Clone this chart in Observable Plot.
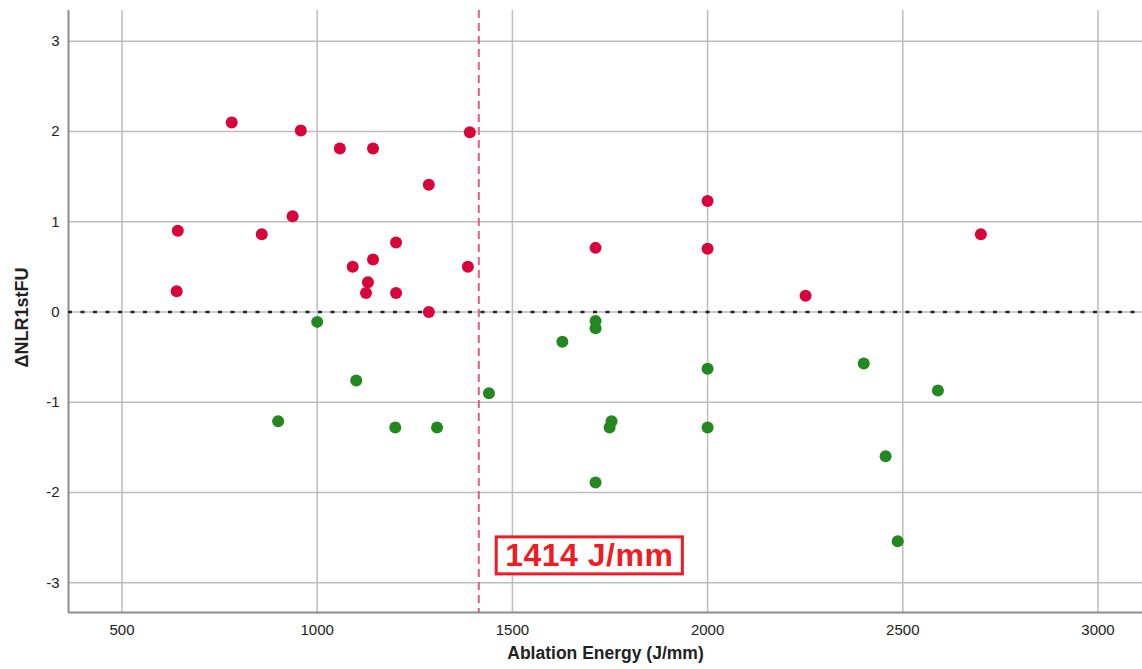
<!DOCTYPE html>
<html>
<head>
<meta charset="utf-8">
<script src="https://cdn.jsdelivr.net/npm/d3@7"></script>
<script src="https://cdn.jsdelivr.net/npm/@observablehq/plot@0.6"></script>
<style>
  html, body { margin: 0; padding: 0; background: #fff; }
  #chart { width: 1142px; height: 669px; }
</style>
</head>
<body>
<div id="chart"></div>
<script>
// ---- data ----
const redEnergy = [643, 640, 781, 858, 937, 958, 1058, 1143, 1091, 1143, 1130, 1125, 1202, 1202, 1286, 1286, 1386, 1391, 1713, 2000, 2000, 2251, 2700];
const redDelta  = [0.90, 0.23, 2.10, 0.86, 1.06, 2.01, 1.81, 1.81, 0.50, 0.58, 0.33, 0.21, 0.77, 0.21, 1.41, 0.00, 0.50, 1.99, 0.71, 1.23, 0.70, 0.18, 0.86];
const greenEnergy = [1000, 900, 1100, 1200, 1307, 1440, 1628, 1713, 1713, 1713, 1754, 1749, 2000, 2000, 2400, 2456, 2487, 2590];
const greenDelta  = [-0.11, -1.21, -0.76, -1.28, -1.28, -0.90, -0.33, -0.10, -0.18, -1.89, -1.21, -1.28, -0.63, -1.28, -0.57, -1.60, -2.54, -0.87];
const xTicks = [500, 1000, 1500, 2000, 2500, 3000];
const yTicks = [-3, -2, -1, 0, 1, 2, 3];
const xDomain = [363, 3114];
const yDomain = [-3.33, 3.34];
const cutoff = [1414];
const baseline = [0];
const annotationText = ["1414 J/mm"];
const annotationX = [1697];
const annotationY = [-2.70];
const xLabel = "Ablation Energy (J/mm)";
const yLabel = "ΔNLR1stFU";

const red = redEnergy.map((x, i) => ({x, y: redDelta[i]}));
const green = greenEnergy.map((x, i) => ({x, y: greenDelta[i]}));
const annotation = annotationText.map((t, i) => ({t, x: annotationX[i], y: annotationY[i]}));

const font = "'Liberation Sans', Arial, sans-serif";

const svg = Plot.plot({
  width: 1142,
  height: 669,
  marginLeft: 68,
  marginRight: 0,
  marginTop: 10,
  marginBottom: 57,
  style: {fontFamily: font, background: "#fff", overflow: "visible"},
  x: {domain: xDomain},
  y: {domain: yDomain},
  marks: [
    Plot.gridX(xTicks, {stroke: "#bdbdbd", strokeOpacity: 1, strokeWidth: 1.5}),
    Plot.gridY(yTicks, {stroke: "#bdbdbd", strokeOpacity: 1, strokeWidth: 1.5}),
    Plot.ruleX([xDomain[0]], {stroke: "#8c8c8c", strokeWidth: 2}),
    Plot.ruleY([yDomain[0]], {stroke: "#8c8c8c", strokeWidth: 2}),
    Plot.ruleY(baseline, {stroke: "#222", strokeWidth: 2.5, strokeDasharray: "4,8.5"}),
    Plot.ruleX(cutoff, {stroke: "#ec5a80", strokeWidth: 2, strokeDasharray: "8,5"}),
    Plot.axisX(xTicks, {tickSize: 0, tickPadding: 12, fontSize: 15, fill: "#222", label: null, tickFormat: d => String(d)}),
    Plot.axisY(yTicks, {tickSize: 0, tickPadding: 9, fontSize: 15, fill: "#222", label: null, tickFormat: d => String(d)}),
    Plot.dot(red, {x: "x", y: "y", r: 6, fill: "#d9043a", stroke: "none"}),
    Plot.dot(green, {x: "x", y: "y", r: 6, fill: "#22881f", stroke: "none"}),
    Plot.text(annotation, {x: "x", y: "y", text: "t", fill: "#ee1c24", fontSize: 32, fontWeight: "bold", className: "cutoff-label", textAnchor: "middle", lineAnchor: "middle"}),
    Plot.text([xLabel], {frameAnchor: "bottom", dy: 46, fontSize: 17.5, fontWeight: "bold", fill: "#222"}),
    Plot.text([yLabel], {frameAnchor: "left", rotate: -90, dx: -46, dy: 6, textAnchor: "middle", fontSize: 18, fontWeight: "bold", fill: "#222"})
  ]
});

document.getElementById("chart").appendChild(svg);

// frame box around the cutoff annotation, sized from the rendered text
const label = svg.querySelector("g.cutoff-label text");
if (label) {
  label.style.letterSpacing = "0.5px";
  const bb = label.getBBox();
  const g = label.parentNode;
  const rect = document.createElementNS("http://www.w3.org/2000/svg", "rect");
  rect.setAttribute("x", bb.x - 9);
  rect.setAttribute("y", bb.y);
  rect.setAttribute("width", bb.width + 18);
  rect.setAttribute("height", bb.height + 1);
  rect.setAttribute("fill", "#fff");
  rect.setAttribute("stroke", "#ee1c24");
  rect.setAttribute("stroke-width", 3);
  const tr = label.getAttribute("transform");
  if (tr) rect.setAttribute("transform", tr);
  g.insertBefore(rect, label);
}
</script>
</body>
</html>
